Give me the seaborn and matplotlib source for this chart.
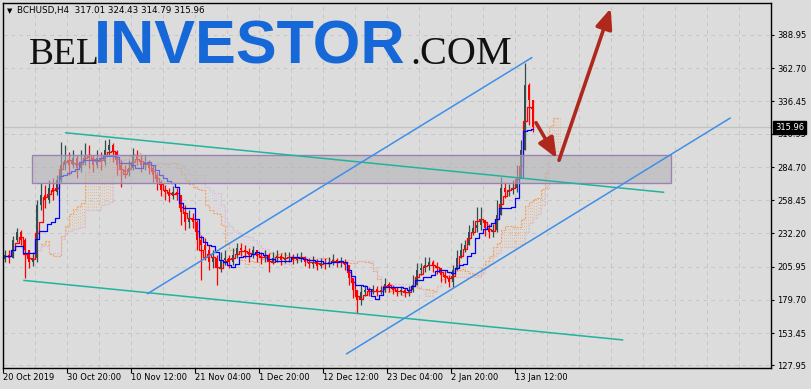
import numpy as np
import pandas as pd
import matplotlib
matplotlib.use("Agg")
import matplotlib.pyplot as plt
import seaborn as sns
from matplotlib.patches import Rectangle, FancyArrowPatch
from matplotlib.transforms import ScaledTranslation

# ---------------- data (each candle = 4 H4 bars) ----------------
first_open = 212.0
closes = [215.2, 212.8, 227.0, 233.4, 227.0, 219.2, 209.7, 212.8, 254.7, 262.6,
          258.6, 268.1, 265.0, 274.4, 286.3, 290.2, 286.3, 291.8, 283.9, 288.6,
          294.2, 291.8, 286.3, 291.8, 288.6, 298.1, 302.1, 296.5, 286.3, 282.3,
          280.7, 283.9, 294.2, 290.2, 286.3, 288.6, 283.9, 278.4, 272.9, 266.5,
          265.0, 261.8, 265.0, 262.6, 249.2, 241.3, 244.4, 241.3, 227.0, 223.1,
          219.2, 209.7, 212.8, 204.9, 211.3, 212.8, 209.7, 215.2, 220.7, 219.2,
          217.6, 215.2, 219.2, 214.4, 212.8, 215.2, 209.7, 212.8, 214.4, 211.3,
          212.8, 213.6, 211.3, 212.8, 213.6, 209.7, 208.1, 209.7, 206.5, 208.9,
          208.1, 209.7, 211.3, 208.9, 209.7, 207.3, 197.0, 187.6, 179.7, 186.0,
          187.6, 186.0, 188.4, 186.8, 187.6, 192.3, 189.2, 187.6, 186.0, 187.6,
          185.2, 187.6, 191.5, 203.4, 204.9, 207.3, 209.7, 206.5, 204.9, 199.4,
          197.0, 193.9, 203.4, 212.8, 219.2, 223.1, 233.4, 236.5, 238.9, 242.9,
          236.5, 233.4, 234.9, 246.8, 268.1, 265.0, 266.5, 268.1, 276.0, 298.1,
          349.5, 337.6, 315.96]
highs = [219.2, 219.2, 230.2, 236.5, 234.9, 228.6, 219.2, 217.6, 258.6, 272.1,
         270.5, 274.4, 276.0, 278.4, 304.4, 302.1, 296.5, 298.1, 294.2, 298.1,
         303.7, 302.1, 294.2, 298.1, 296.5, 306.0, 306.8, 303.7, 298.1, 290.2,
         286.3, 290.2, 299.7, 298.1, 294.2, 294.2, 290.2, 286.3, 280.7, 274.4,
         270.5, 268.1, 269.7, 268.1, 262.6, 254.7, 250.7, 248.4, 242.9, 231.0,
         228.6, 223.1, 219.2, 215.2, 217.6, 219.2, 215.2, 220.7, 224.7, 224.7,
         223.1, 220.7, 222.3, 219.2, 217.6, 219.2, 216.8, 217.6, 219.2, 216.8,
         217.6, 217.6, 216.0, 216.8, 217.6, 214.4, 212.8, 214.4, 212.0, 212.8,
         212.8, 213.6, 216.0, 212.8, 213.6, 212.0, 207.3, 197.0, 187.6, 191.5,
         191.5, 189.9, 191.5, 190.7, 190.7, 197.0, 193.9, 191.5, 189.9, 190.7,
         189.2, 190.7, 199.4, 208.9, 208.9, 213.6, 213.6, 211.3, 209.7, 204.9,
         203.4, 199.4, 207.3, 219.2, 224.7, 227.0, 238.9, 242.9, 253.1, 253.1,
         242.9, 239.7, 239.7, 258.6, 276.8, 272.9, 271.3, 274.4, 286.3, 306.0,
         366.8, 351.0, 330.0]
lows = [209.7, 208.9, 212.8, 225.5, 223.1, 197.0, 204.9, 206.5, 209.7, 250.7,
        252.3, 256.3, 258.6, 262.6, 272.9, 282.3, 278.4, 283.9, 276.0, 280.7,
        286.3, 283.9, 280.7, 283.9, 282.3, 286.3, 294.2, 288.6, 278.4, 268.9,
        276.0, 277.6, 282.3, 286.3, 280.7, 282.3, 279.2, 272.9, 266.5, 261.8,
        258.6, 257.1, 259.4, 258.6, 238.9, 234.9, 236.5, 236.5, 219.2, 195.5,
        211.3, 203.4, 204.9, 191.5, 201.8, 207.3, 204.9, 207.3, 212.8, 214.4,
        212.8, 209.7, 212.8, 209.7, 208.1, 209.7, 201.8, 208.1, 209.7, 207.3,
        208.9, 209.7, 208.1, 208.9, 209.7, 206.5, 204.9, 204.9, 203.4, 204.9,
        204.2, 205.7, 207.3, 205.7, 205.7, 203.4, 191.5, 181.2, 169.4, 175.7,
        182.8, 182.8, 184.4, 182.8, 184.4, 186.0, 186.0, 184.4, 182.8, 183.6,
        182.0, 182.8, 186.0, 197.0, 199.4, 201.8, 203.4, 201.8, 200.2, 193.9,
        193.1, 189.9, 189.9, 207.3, 212.8, 217.6, 225.5, 231.0, 233.4, 234.9,
        230.2, 228.6, 229.4, 233.4, 258.6, 260.2, 261.8, 263.4, 265.0, 286.3,
        313.9, 317.9, 312.0]

bars_per_candle = 4
x_tick_labels = ["20 Oct 2019", "30 Oct 20:00", "10 Nov 12:00", "21 Nov 04:00",
                 "1 Dec 20:00", "12 Dec 12:00", "23 Dec 04:00", "2 Jan 20:00",
                 "13 Jan 12:00"]
x_tick_bars = [0, 64, 128, 192, 256, 320, 384, 448, 512]
y_tick_values = [388.95, 362.70, 336.45, 310.95, 284.70, 258.45, 232.20,
                 205.95, 179.70, 153.45, 127.95]
symbol = "BCHUSD,H4"
last_ohlc = ["317.01", "324.43", "314.79", "315.96"]
last_price = 315.96

# chart drawings (bar index, price)
teal_upper = [(61.7, 311.8), (661.0, 264.7)]
teal_lower = [(20.0, 195.2), (620.0, 148.1)]
blue_upper = [(143.7, 184.4), (529.0, 371.3)]
blue_lower = [(342.7, 136.9), (727.4, 323.6)]
zone = {"x0": 29.0, "x1": 667.4, "p0": 271.8, "p1": 294.2}
arrow_down = [(532.7, 319.7), (553.4, 291.6)]
arrow_up = [(555.7, 290.0), (607.4, 410.0)]

# Ichimoku periods (in H4 bars)
tenkan_n, kijun_n, senkou_n, shift_n = 9, 26, 52, 26

# ---------------- styling ----------------
BG = "#dcdcdc"
W, H = 811, 389
sns.set_theme(style="white")
plt.rcParams["font.family"] = ["DejaVu Sans"]

fig = plt.figure(figsize=(W / 100, H / 100), dpi=100, facecolor=BG)
left_px, right_px, top_px, bot_px = 2.5, 770.7, 2.7, 368.0
ax = fig.add_axes([left_px / W, (H - bot_px) / H,
                   (right_px - left_px) / W, (bot_px - top_px) / H])
ax.set_facecolor(BG)
ax.set_xlim(-0.8, 767.4)
ax.set_ylim(125.97, 414.45)

# grid
grid_kw = dict(color="#c6c6c6", lw=0.7, linestyle=(0, (4, 4)), zorder=0)
for gx in range(32, 768, 32):
    ax.axvline(gx, **grid_kw)
for gy in y_tick_values:
    ax.axhline(gy, **grid_kw)
ax.axhline(last_price, color="#c2c2c2", lw=0.9, zorder=0.5)

# ---------------- candles ----------------
c = np.array(closes)
o = np.r_[first_open, c[:-1]]
h = np.maximum(np.array(highs), np.maximum(o, c))
l = np.minimum(np.array(lows), np.minimum(o, c))
n = len(c)
xc = np.arange(n) * bars_per_candle + 1.5
df = pd.DataFrame({"x": xc, "open": o, "high": h, "low": l, "close": c})

# Ichimoku computed from the candles
k = bars_per_candle
tn = max(1, round(tenkan_n / k))
kn = max(1, round(kijun_n / k))
sn = max(1, round(senkou_n / k))
df["tenkan"] = (df.high.rolling(tn, min_periods=1).max() + df.low.rolling(tn, min_periods=1).min()) / 2
df["kijun"] = (df.high.rolling(kn, min_periods=1).max() + df.low.rolling(kn, min_periods=1).min()) / 2
df["spanA"] = (df.tenkan + df.kijun) / 2
df["spanB"] = (df.high.rolling(sn, min_periods=1).max() + df.low.rolling(sn, min_periods=1).min()) / 2
df["x_shift"] = df["x"] + shift_n

# cloud hatching (sparse dotted vertical strokes)
bull = df.spanA >= df.spanB
for dx in (-1.0, 1.0):
    xs = df["x_shift"] + dx
    ax.vlines(xs[bull], df.spanB[bull], df.spanA[bull], colors="#f4a460",
              lw=0.55, linestyles=(0, (1.2, 2.6)), alpha=0.9, zorder=1)
    ax.vlines(xs[~bull], df.spanA[~bull], df.spanB[~bull], colors="#d8bfd8",
              lw=0.55, linestyles=(0, (1.2, 2.6)), alpha=0.9, zorder=1)
ax.plot(df["x_shift"], df.spanA, color="#f4a460", lw=0.8, ls=(0, (2, 1.2)),
        drawstyle="steps-mid", zorder=1.2)
ax.plot(df["x_shift"], df.spanB, color="#d8bfd8", lw=0.8, ls=(0, (2, 1.2)),
        drawstyle="steps-mid", zorder=1.2)

up = df.close >= df.open
cols = np.where(up, "#2f4f4f", "#ff0000")
ax.vlines(df["x"], df.low, df.high, colors=cols, lw=0.9, zorder=2)
body = np.maximum((df.close - df.open).abs(), 0.4)
ax.bar(df["x"], body, bottom=np.minimum(df.open, df.close), width=2.6,
       color=cols, lw=0, zorder=2.1)

sns.lineplot(data=df, x="x", y="tenkan", ax=ax, color="#ff0000", lw=0.9,
             drawstyle="steps-mid", estimator=None, zorder=3)
sns.lineplot(data=df, x="x", y="kijun", ax=ax, color="#0000ff", lw=0.9,
             drawstyle="steps-mid", estimator=None, zorder=3)

# ---------------- drawings ----------------
ax.add_patch(Rectangle((zone["x0"], zone["p0"]), zone["x1"] - zone["x0"],
                       zone["p1"] - zone["p0"], facecolor=(0.70, 0.70, 0.72, 0.6),
                       edgecolor="#9b82b4", lw=1.0, zorder=4))
for seg, col in ((teal_upper, "#22b39c"), (teal_lower, "#22b39c"),
                 (blue_upper, "#3d8fe8"), (blue_lower, "#3d8fe8")):
    (x0, y0), (x1, y1) = seg
    ax.plot([x0, x1], [y0, y1], color=col, lw=1.1, zorder=5, solid_capstyle="butt")
for seg in (arrow_down, arrow_up):
    ax.add_patch(FancyArrowPatch(seg[0], seg[1], arrowstyle="-|>,head_length=12,head_width=5",
                                 mutation_scale=1, color="#b0281c", lw=2.6,
                                 shrinkA=0, shrinkB=0, zorder=6))

# ---------------- axes / ticks ----------------
for s in ax.spines.values():
    s.set_color("black")
    s.set_linewidth(1.0)
ax.set_xlabel("")
ax.set_ylabel("")
ax.set_xticks(x_tick_bars)
ax.set_xticklabels(x_tick_labels, fontsize=6, ha="left")
shift_lbl = ScaledTranslation(-1.5 / 100, 0, fig.dpi_scale_trans)
for lab in ax.get_xticklabels():
    lab.set_transform(lab.get_transform() + shift_lbl)
ax.tick_params(axis="x", direction="out", length=3.4, width=0.8, pad=0.5,
               colors="black", labelsize=6, bottom=True)
ax.yaxis.tick_right()
ax.set_yticks(y_tick_values)
ax.set_yticklabels([f"{v:.2f}" for v in y_tick_values], fontsize=6)
ax.tick_params(axis="y", direction="out", length=2.5, width=0.8, pad=2,
               colors="black", labelsize=6, right=True)

ax.annotate(f"{last_price:.2f}", xy=(1, last_price), xycoords=("axes fraction", "data"),
            xytext=(3.2, 0), textcoords="offset points", ha="left", va="center",
            fontsize=6, color="white", zorder=10, annotation_clip=False,
            bbox=dict(boxstyle="square,pad=0.2", fc="black", ec="black"))

# header & watermark
fig.text(7 / W, 1 - 10.8 / H, "▼", fontsize=5, va="center", ha="left", color="black")
fig.text(17.3 / W, 1 - 10.8 / H, symbol + "  " + " ".join(last_ohlc),
         fontsize=6.3, va="center", ha="left", color="black")
fig.text(28.5 / W, 1 - 64.5 / H, "BEL", fontsize=27, family="Liberation Serif",
         color="#111111", va="baseline", ha="left")
fig.text(94 / W, 1 - 63.3 / H, "INVESTOR", fontsize=44, family="Liberation Sans",
         fontweight="bold", color="#1668d8", va="baseline", ha="left")
fig.text(410 / W, 1 - 63.5 / H, ".COM", fontsize=29, family="Liberation Serif",
         color="#111111", va="baseline", ha="left")

fig.savefig("out.png", dpi=100, facecolor=BG)
